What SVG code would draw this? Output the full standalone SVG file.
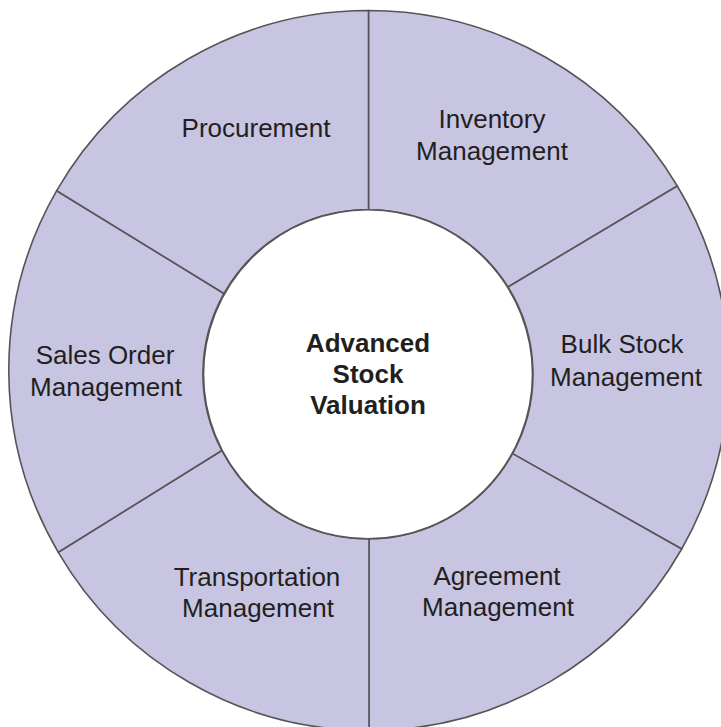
<svg xmlns="http://www.w3.org/2000/svg" width="721" height="727" viewBox="0 0 721 727">
<style>
.sec{fill:#c8c5e2;stroke:#555557;stroke-width:1.6;stroke-linejoin:round}
.lbl{font-family:"Liberation Sans",Arial,sans-serif;font-size:26px;fill:#231f20;text-anchor:middle}
.ctr{font-family:"Liberation Sans",Arial,sans-serif;font-size:26px;font-weight:bold;fill:#231f20;text-anchor:middle}
</style>
<rect width="721" height="727" fill="#ffffff"/>
<g id="inventory">
<path class="sec" d="M368.5,209.8 L368.5,10.5 A360,360 0 0 1 677.3,186 L508,287 A164.5,164.5 0 0 0 368.5,209.8 Z"/>
<text class="lbl" x="492" y="128">Inventory</text>
<text class="lbl" x="492" y="160">Management</text>
</g>
<g id="bulk-stock">
<path class="sec" d="M508,287 L677.3,186 A360,360 0 0 1 681.7,549 L512.5,453.6 A164.5,164.5 0 0 0 508,287 Z"/>
<text class="lbl" x="622" y="353">Bulk Stock</text>
<text class="lbl" x="626" y="386">Management</text>
</g>
<g id="agreement">
<path class="sec" d="M512.5,453.6 L681.7,549 A360,360 0 0 1 369,730.5 L369,538.8 A164.5,164.5 0 0 0 512.5,453.6 Z"/>
<text class="lbl" x="497" y="585">Agreement</text>
<text class="lbl" x="498" y="616">Management</text>
</g>
<g id="transportation">
<path class="sec" d="M369,538.8 L369,730.5 A360,360 0 0 1 58.3,552.3 L221.8,450.5 A164.5,164.5 0 0 0 369,538.8 Z"/>
<text class="lbl" x="257" y="586">Transportation</text>
<text class="lbl" x="258" y="617">Management</text>
</g>
<g id="sales-order">
<path class="sec" d="M221.8,450.5 L58.3,552.3 A360,360 0 0 1 56.7,190.7 L224,293.5 A164.5,164.5 0 0 0 221.8,450.5 Z"/>
<text class="lbl" x="105" y="364">Sales Order</text>
<text class="lbl" x="106" y="396">Management</text>
</g>
<g id="procurement">
<path class="sec" d="M224,293.5 L56.7,190.7 A360,360 0 0 1 368.5,10.5 L368.5,209.8 A164.5,164.5 0 0 0 224,293.5 Z"/>
<text class="lbl" x="256" y="137">Procurement</text>
</g>
<g id="advanced-stock-valuation">
<circle cx="368" cy="374.3" r="164.5" fill="#ffffff" stroke="#555557" stroke-width="1.6"/>
<text class="ctr" x="368" y="352">Advanced</text>
<text class="ctr" x="368" y="383">Stock</text>
<text class="ctr" x="368" y="414">Valuation</text>
</g>
<g id="connectors"></g>
</svg>
